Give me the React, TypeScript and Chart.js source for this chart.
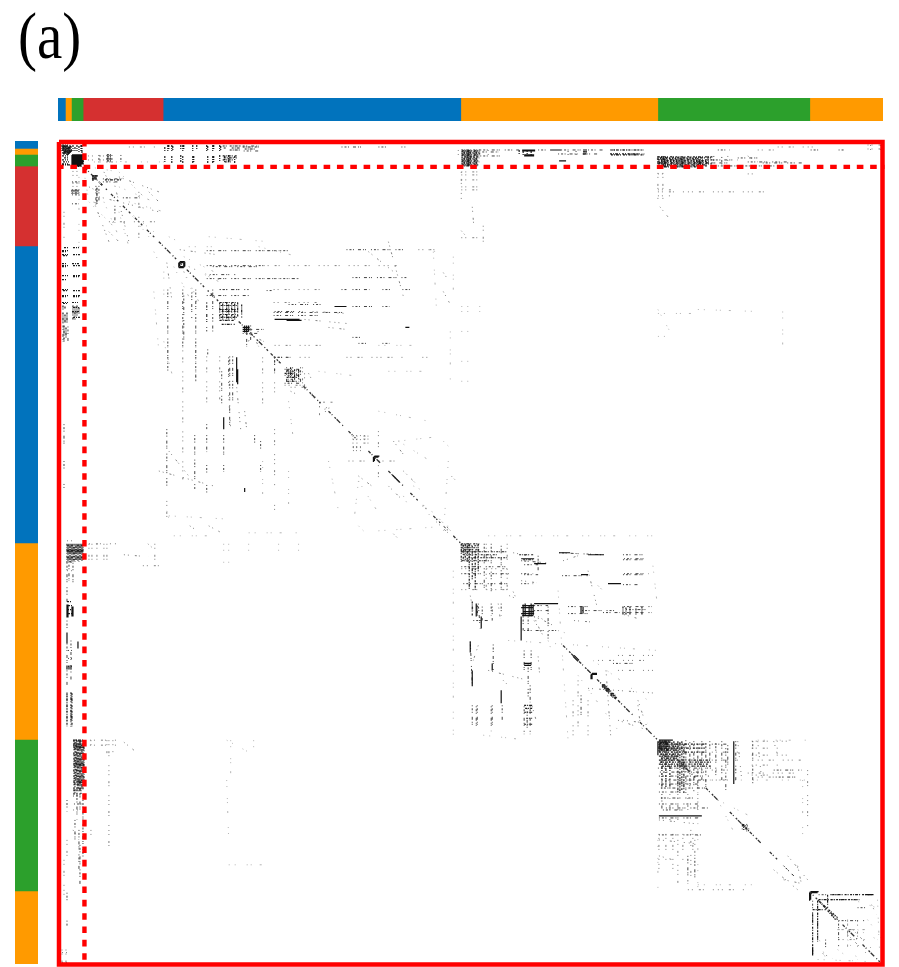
import React, { useEffect, useRef } from "react";
import { Chart, registerables } from "chart.js";

Chart.register(...registerables);

const matrixSize = 825;
const blockSizes = [7.4, 6, 11.7, 80, 297.7, 197, 152, 73];
const blockColors = ["#0173BD", "#FF9A00", "#2CA02C", "#D53030", "#0173BD", "#FF9A00", "#2CA02C", "#FF9A00"];
const panelLabel = "(a)";
const frameCorners = [[0, 0], [825, 0], [825, 825], [0, 825], [0, 0]];
const subsetRow = [[-2, 25], [827, 25]];
const subsetColumn = [[25.5, -2], [25.5, 827]];

// Non-zero runs of the symmetric matrix: [col1, row1, col2, row2]. Each is also drawn transposed.
const diagonalRuns = [
  [26,26,48,48],[52,52,60,60],[64,64,72,72],[76,76,84,84],[88,88,96,96],[100,100,125,125],[128,128,150,150],[152,152,160,160],[180,180,186,186],[192,192,210,210],
  [212,212,222,222],[228,228,232,232],[245,245,262,262],[270,270,285,285],[290,290,297,297],[310,310,322,322],[330,330,345,345],[352,352,360,360],[375,375,382,382],[395,395,402,402],
  [505,505,516,516],[521,521,533,533],[539,539,553,553],[560,560,575,575],[582,582,599,599],[620,620,640,640],[648,648,660,660],[672,672,684,684],[692,692,703,703],[712,712,720,720],
  [752,752,780,780],[785,785,800,800],[805,805,824,824],
];
const solidRuns = [
  [13,13,25,13],[13,14,25,14],[13,15,25,15],[13,16,25,16],[13,17,25,17],[13,18,24,18],[14,19,25,19],[14,20,25,20],[14,21,24,21],[15,22,25,22],
  [4,4,9,4],[4,7,10,7],[5,10,12,10],
  [464,8,477,8],[464,9,477,9],[466,13,476,13],[466,14,476,14],[492,8,502,8],[525,8,529,8],[525,10,529,10],[525,12,528,12],
  [33,34,39,34],[33,37,37,37],[121,120,126,120],[121,125,126,125],[121,120,121,125],[126,120,126,125],
  [276,165,288,165],[216,178,241,178],[463,418,476,418],[551,443,563,443],[423,476,423,488],[463,476,463,500],
  [412,501,412,512],[414,530,414,546],[434,523,434,530],[443,550,443,561],[466,523,473,523],[466,525,473,525],
  [601,676,644,676],[8,493,8,503],[19,501,19,508],[808,755,816,755],[347,186,351,186],
  [753,752,761,752],[753,752,753,760],
  [184,186,191,186],[184,188,191,188],[184,190,190,190],
  [464,465,476,465],[463,467,475,467],[465,471,476,471],[463,473,476,473],[464,475,475,475],
  [179,228,179,243],
  [516,515,521,520],[534,533,539,533],[534,533,534,539],[601,600,615,600],[602,602,612,602],
  [316,315,321,315],[316,315,316,320],[334,334,341,341],
];
const denseRuns = [
  [3,3,9,3],[3,5,12,5],[4,6,13,6],[3,8,13,8],[5,9,13,9],[3,11,12,11],[4,12,10,12],[3,14,9,14],[5,16,10,16],[3,18,9,18],[4,20,10,20],[3,22,9,22],[3,23,12,23],
  [403,8,422,8],[404,9,421,9],[403,10,421,10],[405,11,422,11],[403,12,422,12],[404,13,420,13],[403,14,421,14],[406,15,421,15],[403,16,421,16],[405,17,420,17],[403,18,420,18],[404,19,420,19],[403,20,421,20],[405,21,420,21],[403,22,420,22],[404,23,420,23],[403,24,420,24],
  [600,15,655,15],[602,16,654,16],[599,17,640,17],[600,18,655,18],[603,19,650,19],[600,20,652,20],[601,21,650,21],[600,22,654,22],[604,23,648,23],[600,24,650,24],[601,25,640,25],
  [164,4,168,4],[165,6,168,6],[171,4,181,4],[173,6,181,6],[171,8,181,8],[184,5,200,5],[186,7,198,7],[164,14,178,14],[165,16,178,16],[164,18,176,18],[166,20,172,20],
  [106,5,106,9],[109,3,109,9],[113,3,113,9],[124,3,124,9],[134,3,134,9],[138,3,138,8],[148,3,148,9],[154,3,154,9],
  [110,3,110,8],[114,4,114,9],[125,3,125,8],[149,4,149,9],[155,3,155,8],[161,3,161,9],[162,4,162,8],
  [106,14,106,20],[113,14,113,21],[124,14,124,21],[134,14,134,21],[149,14,149,21],[154,14,154,21],
  [122,3,122,8],[122,13,122,20],[135,14,135,20],[155,14,155,20],[161,13,161,19],[166,14,166,20],[170,13,170,20],[176,14,176,21],
  [38,46,38,63],[48,13,53,13],[48,15,53,15],[48,17,53,17],[48,19,53,19],
  [161,161,179,161],[162,164,179,164],[161,168,178,168],[163,170,179,170],[161,173,179,173],[162,176,179,176],[161,179,176,179],[163,183,176,183],
  [403,403,421,403],[404,405,421,405],[403,407,420,407],[405,409,421,409],
  [403,411,449,411],[405,414,440,414],[410,417,449,417],[403,420,432,420],
  [601,604,621,604],[602,606,621,606],[601,608,620,608],[603,610,621,610],[601,612,621,612],[602,614,621,614],[601,616,621,616],[603,618,620,618],
  [601,620,653,620],[602,622,653,622],[601,624,650,624],[604,626,653,626],
  [621,604,650,604],[623,608,647,608],[621,612,650,612],
  [601,601,611,601],[602,603,611,603],[601,606,611,606],[603,609,611,609],[601,612,611,612],
  [466,565,474,565],[467,568,474,568],[466,572,474,572],[468,578,474,578],[466,584,474,584],
  [14,600,25,600],[14,604,26,604],[8,461,13,461],[9,465,13,465],[8,469,13,469],[9,473,13,473],
  [755,775,755,815],[760,761,760,801],[762,762,780,778],[755,770,768,770],
  [414,461,414,476],[419,465,419,476],[544,544,558,558],[545,544,559,558],[546,544,558,556],
  [226,232,238,232],[228,236,240,236],[228,240,238,240],[684,684,692,692],[684,686,690,686],
  [552,12,582,12],[8,553,8,586],[13,553,13,586],
];
const midRuns = [
  [422,8,463,8],[421,10,440,10],[422,14,445,14],[480,8,491,8],[503,8,524,8],[530,8,545,8],[552,8,582,8],[567,12,590,12],[660,8,672,8],[500,12,540,12],
  [655,18,680,18],[650,21,672,21],[680,16,700,16],[690,20,730,20],[660,24,720,24],
  [181,4,200,4],[185,9,200,9],[283,5,303,5],[320,5,328,5],[343,5,347,5],
  [44,37,63,37],[44,40,60,40],[64,56,81,56],[13,48,21,48],[13,51,21,51],[13,53,21,53],[13,40,22,40],[13,62,20,62],
  [33,33,44,43],
  [154,125,201,125],[151,133,178,133],[161,148,184,148],[208,149,214,149],[288,108,348,108],[294,136,348,136],[283,148,288,148],[294,148,311,148],[324,148,332,148],[344,148,354,148],
  [294,165,314,165],[324,165,331,165],[216,170,244,170],[294,196,305,196],[300,202,308,202],[324,202,331,202],
  [124,148,124,205],[109,148,109,230],[137,148,137,240],[171,215,171,285],[163,230,163,262],[174,215,174,262],[154,148,154,190],[148,161,148,190],
  [226,228,241,228],[228,230,241,230],[226,234,241,234],[229,238,241,238],[226,242,241,242],
  [186,188,205,188],[184,192,200,192],[216,216,228,216],[216,216,216,230],
  [403,426,449,426],[403,433,425,433],[431,433,451,433],[405,443,450,443],[463,433,475,433],[463,443,475,443],
  [504,435,531,435],[566,433,591,433],[501,412,544,414],[566,418,588,418],[463,420,488,422],[415,480,430,480],
  [566,466,594,466],[568,469,590,469],[566,472,594,472],[524,470,558,470],[476,465,490,465],[476,470,490,470],
  [424,466,424,480],[434,466,434,480],[466,490,500,490],[466,510,466,530],[473,510,473,530],[472,545,472,562],
  [414,565,414,586],[419,565,419,586],[434,565,434,586],[444,565,444,580],[523,555,523,575],
  [600,628,653,628],[602,632,650,632],[601,636,653,636],[604,640,653,640],[601,644,640,644],[603,648,650,648],[601,652,620,652],
  [601,695,644,695],[603,658,635,658],[601,664,640,664],[605,670,625,670],
  [716,630,744,630],[718,637,741,637],[654,604,670,604],[678,601,678,640],[668,608,668,650],[726,726,736,736],
  [761,755,781,755],[770,760,804,760],[800,768,808,768],[684,689,694,689],[781,781,808,781],
  [14,605,25,610],[14,614,25,614],[15,620,25,620],[14,630,25,630],[16,640,25,640],[14,650,24,650],[14,656,24,656],[15,664,24,664],
  [9,510,13,510],[9,518,13,518],[9,526,13,526],[21,705,21,746],[8,753,8,763],[8,781,8,786],
];
const sparseRuns = [
  [403,30,422,30],[403,33,422,33],[403,38,420,38],[403,45,422,45],[403,48,420,48],[414,65,416,90],[403,96,420,96],
  [600,32,606,32],[600,50,660,50],[600,48,615,48],[600,54,612,54],[660,50,712,50],[690,32,700,32],
  [29,14,54,14],[29,18,54,18],[810,3,823,3],[810,7,823,7],[720,5,760,5],[813,3,813,8],[823,3,823,8],[70,5,100,5],
  [50,80,105,80],[40,55,100,70],[50,90,60,100],[35,60,50,100],[30,45,40,50],
  [121,108,158,113],[109,205,109,230],[137,205,137,240],[124,205,124,340],[161,215,161,260],[148,215,148,270],
  [216,204,270,204],[216,216,254,216],[288,216,348,216],[364,216,370,216],[246,178,288,182],[254,170,288,172],[270,186,288,188],
  [188,193,200,190],[191,193,205,200],[226,244,250,244],[232,246,254,246],[232,250,240,254],
  [261,261,274,261],[261,261,261,271],[266,268,274,266],[294,295,311,295],[294,298,311,298],[294,302,311,302],[294,306,305,306],
  [360,108,382,108],[385,131,391,140],[385,150,391,161],[393,335,399,341],[364,365,374,371],[378,378,396,395],[381,378,398,396],
  [110,310,130,335],[290,320,340,320],[300,335,320,350],[330,345,345,360],[100,330,155,345],
  [403,428,449,428],[403,449,450,449],[412,455,415,470],[463,440,478,442],[451,455,458,458],[540,445,545,450],
  [516,480,540,482],[566,474,580,478],[476,476,490,482],[476,480,485,495],[420,505,415,520],[430,530,470,540],
  [530,548,600,553],[565,580,590,583],[580,560,590,590],[560,515,600,515],[560,530,600,530],[540,520,590,520],
  [654,612,681,612],[654,620,681,620],[654,630,675,630],[654,640,675,640],[694,601,734,601],[694,608,720,608],[694,615,730,615],[694,625,720,625],[694,635,710,635],
  [601,680,640,684],[601,700,640,704],[601,716,615,720],[620,700,620,745],[633,690,633,742],[637,700,637,730],[716,730,740,750],[726,740,750,745],
  [781,790,808,790],[781,800,808,800],[790,780,790,810],[795,790,815,810],[814,765,819,775],[630,750,690,750],
  [31,600,58,600],[31,605,58,605],[65,602,75,610],[8,700,8,720],[14,670,24,670],[14,690,20,700],
  [26,403,60,403],[89,403,97,410],[84,425,100,425],[8,400,14,400],[8,430,14,430],
];
const faintRuns = [
  [35,20,105,20],[30,25,60,30],[60,30,90,60],[70,60,105,70],[45,60,60,95],[70,70,90,95],
  [130,105,160,105],[125,130,145,170],[130,125,165,140],[115,125,135,165],[105,200,115,240],[95,150,100,210],
  [320,204,365,204],[330,230,370,230],[260,230,300,235],[395,115,395,150],[392,190,392,240],[320,270,370,280],[340,300,385,295],[300,340,325,380],[320,390,395,385],
  [110,375,165,378],[108,370,112,385],[95,110,100,120],[240,240,260,262],[355,345,365,350],[300,385,310,395],
  [403,170,422,170],[403,165,422,165],[600,172,640,172],[600,168,612,190],[640,168,700,170],[403,190,420,190],[403,220,420,220],[403,240,420,240],
  [600,195,612,195],[725,170,725,210],[700,600,750,600],[640,630,640,750],[660,660,680,700],
  [500,490,515,495],[430,395,600,395],[450,500,600,510],[520,535,560,590],[595,425,600,470],
  [800,790,820,800],[760,820,810,822],[795,760,825,770],[780,810,800,825],[640,745,700,745],
];

// Irregular on/off ink patterns, one per density tier.
const diagonalInk = [3, 1.5, 1, 3, 2, 1, 5, 3, 1, 2, 2, 5];
const denseInk = [2, 1, 1, 1, 3, 1, 1, 2, 2, 1, 1, 1.5];
const midInk = [1, 2, 2, 1.5, 1, 4, 3, 2, 1, 1, 1, 5];
const sparseInk = [1, 3, 1, 6, 2, 2, 1, 9, 1, 4];
const faintInk = [1, 5, 1, 11, 1, 3, 1, 8, 2, 14];

type Run = number[];
const toPath = (runs: Run[]) => {
  const pts: { x: number; y: number }[] = [];
  for (const [a, b, c, d] of runs) {
    pts.push({ x: a, y: b }, { x: c, y: d }, { x: NaN, y: NaN });
    pts.push({ x: b, y: a }, { x: d, y: c }, { x: NaN, y: NaN });
  }
  return pts;
};
const toPts = (p: number[][]) => p.map(([x, y]) => ({ x, y }));

function StripChart({ axis, style }: { axis: "x" | "y"; style: React.CSSProperties }) {
  const ref = useRef<HTMLCanvasElement>(null);
  useEffect(() => {
    const chart = new Chart(ref.current!, {
      type: "bar",
      data: {
        labels: ["block"],
        datasets: blockSizes.map((v, i) => ({
          data: [v],
          backgroundColor: blockColors[i],
          borderWidth: 0,
          barPercentage: 1,
          categoryPercentage: 1,
        })),
      },
      options: {
        animation: false,
        responsive: false,
        indexAxis: axis === "x" ? "y" : "x",
        layout: { padding: 0 },
        plugins: { legend: { display: false }, tooltip: { enabled: false } },
        scales: {
          x: axis === "x"
            ? { display: false, stacked: true, min: 0, max: matrixSize }
            : { display: false, stacked: true },
          y: axis === "y"
            ? { display: false, stacked: true, min: 0, max: matrixSize, reverse: true }
            : { display: false, stacked: true },
        },
      } as any,
    });
    return () => chart.destroy();
  }, [axis]);
  return <canvas ref={ref} width={style.width as number} height={style.height as number} style={{ position: "absolute", display: "block", ...style }} />;
}

function MatrixChart() {
  const ref = useRef<HTMLCanvasElement>(null);
  useEffect(() => {
    const tier = (runs: Run[], color: string, width: number, dash: number[]) => ({
      data: toPath(runs),
      showLine: true,
      pointRadius: 0,
      borderColor: color,
      borderWidth: width,
      borderDash: dash,
      spanGaps: false,
      clip: false as any,
    });
    const chart = new Chart(ref.current!, {
      type: "scatter",
      data: {
        datasets: [
          { data: toPts(frameCorners), showLine: true, pointRadius: 0, borderColor: "#FF0000", borderWidth: 4.5, clip: false },
          { data: toPts(subsetRow), showLine: true, pointRadius: 0, borderColor: "#FF0000", borderWidth: 4.4, borderDash: [6.6, 6.73], clip: false },
          { data: toPts(subsetColumn), showLine: true, pointRadius: 0, borderColor: "#FF0000", borderWidth: 4.4, borderDash: [6.6, 6.73], clip: false },
          tier(diagonalRuns, "#333333", 1.3, diagonalInk),
          tier(solidRuns, "#111111", 1.2, []),
          tier(denseRuns, "#1c1c1c", 1.2, denseInk),
          tier(midRuns, "#444444", 1, midInk),
          tier(sparseRuns, "#808080", 1, sparseInk),
          tier(faintRuns, "#B4B4B4", 1, faintInk),
        ] as any,
      },
      options: {
        animation: false,
        responsive: false,
        layout: { padding: { left: 59, top: 142, right: 16.5, bottom: 2.5 } },
        plugins: { legend: { display: false }, tooltip: { enabled: false } },
        scales: {
          x: { type: "linear", display: false, min: 0, max: matrixSize },
          y: { type: "linear", display: false, min: 0, max: matrixSize, reverse: true },
        },
      } as any,
    });
    return () => chart.destroy();
  }, []);
  return <canvas ref={ref} width={899} height={967} style={{ position: "absolute", left: 0, top: 0, display: "block" }} />;
}

export default function App() {
  return (
    <div style={{ position: "absolute", left: 0, top: 0, width: 899, height: 967, overflow: "hidden", background: "#fff" }}>
      <MatrixChart />
      <StripChart axis="x" style={{ left: 58, top: 98, width: 825, height: 23 }} />
      <StripChart axis="y" style={{ left: 15, top: 141, width: 23, height: 823 }} />
      <div style={{ position: "absolute", left: 18, top: -4, fontFamily: "'Liberation Serif', serif", fontSize: 57, lineHeight: "70px", color: "#000", transform: "scaleY(1.15)", transformOrigin: "top left" }}>{panelLabel}</div>
    </div>
  );
}
